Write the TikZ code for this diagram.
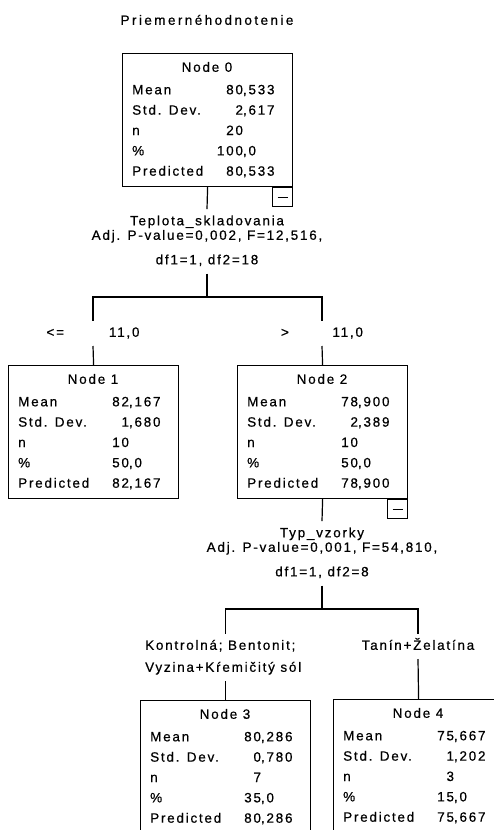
\documentclass[tikz,border=0pt]{standalone}
\usepackage{fontspec}
\setmainfont{Liberation Sans}[LetterSpace=13,FakeBold=0.5]
\newcommand\tvd[2]{\makebox[0pt][r]{#1}\makebox[0pt][l]{,#2}}
\newcommand\tvi[1]{\makebox[0pt][r]{#1}}
\tikzset{
 treebox/.style={draw=black, line width=1.2pt, fill=white, minimum width=170pt, minimum height=133pt, inner sep=0pt},
 minusbox/.style={draw=black, line width=1.2pt, fill=white, minimum width=20pt, minimum height=19pt, inner sep=0pt},
 txt/.style={inner sep=0pt, text=black, font=\fontsize{13.5pt}{16pt}\selectfont},
 lab/.style={txt, text height=10pt, text depth=3pt, inner ysep=6pt, inner xsep=2pt},
 conn/.style={line width=1.2pt, draw=black},
}
\newcommand\treenode[9]{%
 \node[treebox, anchor=north west] (#1) at (#2,#3) {};
 \node[txt, anchor=base] (#1-t) at ({#2+85},{#3+18.8}) {Node #4};
 \node[txt, anchor=base west] (#1-l1) at ({#2+10},{#3+41.3}) {Mean};
 \node[txt, anchor=base west] (#1-l2) at ({#2+10},{#3+61.65}) {Std. Dev.};
 \node[txt, anchor=base west] (#1-l3) at ({#2+10},{#3+82}) {n};
 \node[txt, anchor=base west] (#1-l4) at ({#2+10},{#3+102.35}) {\%};
 \node[txt, anchor=base west] (#1-l5) at ({#2+10},{#3+122.7}) {Predicted};
 \node[txt, anchor=base] (#1-v1) at ({#2+121},{#3+41.3}) {#5};
 \node[txt, anchor=base] (#1-v2) at ({#2+121},{#3+61.65}) {#6};
 \node[txt, anchor=base] (#1-v3) at ({#2+121},{#3+82}) {#7};
 \node[txt, anchor=base] (#1-v4) at ({#2+121},{#3+102.35}) {#8};
 \node[txt, anchor=base] (#1-v5) at ({#2+121},{#3+122.7}) {#9};
}
\begin{document}
\begin{tikzpicture}[x=1pt, y=-1pt]
\useasboundingbox (0,0) rectangle (494,830);
\fill[white] (0,0) rectangle (494,830);
\clip (0,0) rectangle (494,830);
\node[txt, anchor=base] (title) at (207,24.8) {\addfontfeatures{LetterSpace=18}Priemernéhodnotenie};
% root
\treenode{n0}{122}{53}{0}{\tvd{80}{533}}{\tvd{2}{617}}{\tvi{20}}{\tvd{100}{0}}{\tvd{80}{533}}
\node[minusbox, anchor=north east] (n0m) at (n0.south east) {};
\draw[conn] ([xshift=-5pt]n0m.center) -- ([xshift=5pt]n0m.center);
\node[lab, anchor=base] (s0a) at (207,225.3) {Teplota\_skladovania};
\node[lab, anchor=base] (s0b) at (207,239.8) {Adj. P-value=0,002, F=12,516,};
\node[lab, anchor=base] (s0c) at (207,264.3) {df1=1, df2=18};
\draw[conn] (n0.south) -- (s0a.north);
\coordinate (j0) at (207,297);
\draw[conn] (s0c.south) -- (j0);
% level 1
\treenode{n1}{8}{365}{1}{\tvd{82}{167}}{\tvd{1}{680}}{\tvi{10}}{\tvd{50}{0}}{\tvd{82}{167}}
\treenode{n2}{237}{365}{2}{\tvd{78}{900}}{\tvd{2}{389}}{\tvi{10}}{\tvd{50}{0}}{\tvd{78}{900}}
\node[lab, anchor=base] (b1) at (93,336.8) {\makebox[93pt]{<=\hfill 11,0}};
\node[lab, anchor=base] (b2) at (322,336.8) {\makebox[82pt]{>\hfill 11,0}};
\draw[conn] (b1.north) |- (j0) -| (b2.north);
\draw[conn] (b1.south) -- (n1.north);
\draw[conn] (b2.south) -- (n2.north);
\node[minusbox, anchor=north east] (n2m) at (n2.south east) {};
\draw[conn] ([xshift=-5pt]n2m.center) -- ([xshift=5pt]n2m.center);
\node[lab, anchor=base] (s2a) at (322,537.3) {Typ\_vzorky};
\node[lab, anchor=base] (s2b) at (322,551.8) {Adj. P-value=0,001, F=54,810,};
\node[lab, anchor=base] (s2c) at (322,576.3) {df1=1, df2=8};
\draw[conn] (n2.south) -- (s2a.north);
\coordinate (j2) at (322,609);
\draw[conn] (s2c.south) -- (j2);
% level 2
\treenode{n3}{140}{700}{3}{\tvd{80}{286}}{\tvd{0}{780}}{\tvi{7}}{\tvd{35}{0}}{\tvd{80}{286}}
\treenode{n4}{333}{699}{4}{\tvd{75}{667}}{\tvd{1}{202}}{\tvi{3}}{\tvd{15}{0}}{\tvd{75}{667}}
\node[lab, anchor=base west] (k3a) at (143,649.8) {Kontrolná; Bentonit;};
\node[lab, anchor=base west] (k3b) at (143,671.8) {Vyzina+Kŕemičitý sól};
\node[lab, anchor=base] (k4) at (418,649.8) {Tanín+Želatína};
\draw[conn] (k3a.north -| n3.north) |- (j2) -| (k4.north);
\draw[conn] (k3b.south -| n3.north) -- (n3.north);
\draw[conn] (k4.south) -- (n4.north);
\end{tikzpicture}
\end{document}
